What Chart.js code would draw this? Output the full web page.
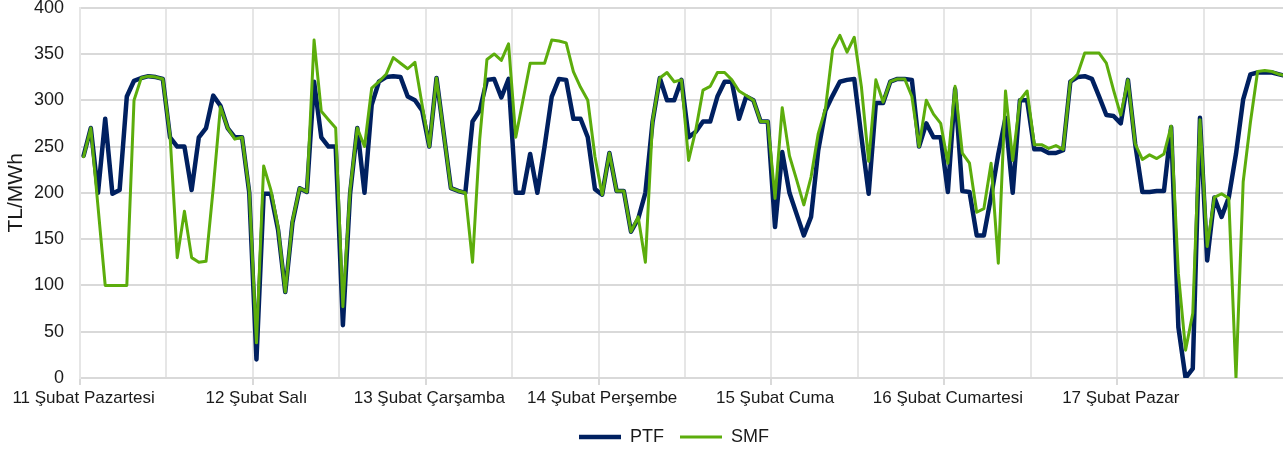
<!DOCTYPE html>
<html>
<head>
<meta charset="utf-8">
<script src="https://cdn.jsdelivr.net/npm/chart.js@4.4.1/dist/chart.umd.min.js"></script>
<style>
  html, body { margin: 0; padding: 0; overflow: hidden; background: #fff; }
  #wrap { width: 1290px; height: 452px; }
</style>
</head>
<body>
<div id="wrap"><canvas id="priceChart"></canvas></div>
<script>
// One tick label per day, 24 hourly values each
const days = ["11 Şubat Pazartesi", "12 Şubat Salı", "13 Şubat Çarşamba", "14 Şubat Perşembe",
  "15 Şubat Cuma", "16 Şubat Cumartesi", "17 Şubat Pazar"];

// PTF hourly (TL/MWh)
const ptf = [
  240, 270, 200, 280, 199, 203, 304, 321, 324, 326, 325, 323, 260, 250, 250, 203, 260, 270, 305, 294, 270, 260, 260, 200,
  20, 199, 199, 160, 93, 168, 205, 201, 320, 260, 250, 250, 57, 199, 270, 200, 295, 320, 325, 326, 325, 304, 300, 289,
  250, 324, 264, 205, 202, 200, 277, 289, 322, 323, 303, 323, 200, 200, 242, 200, 250, 304, 323, 322, 280, 280, 260, 204,
  198, 243, 202, 202, 158, 172, 200, 277, 324, 300, 300, 322, 260, 266, 277, 277, 304, 320, 320, 280, 304, 300, 277, 277,
  163, 244, 200, 177, 154, 174, 246, 289, 305, 320, 322, 323, 260, 199, 297, 297, 320, 323, 323, 322, 250, 275, 260, 260,
  201, 312, 202, 201, 154, 154, 196, 242, 281, 200, 300, 300, 247, 247, 243, 243, 246, 320, 325, 326, 323, 304, 284, 283,
  275, 322, 253, 201, 201, 202, 202, 271, 55, 0, 10, 281, 127, 195, 174, 195, 242, 301, 328, 330, 330, 330, 328, 326
];

// SMF hourly (TL/MWh)
const smf = [
  239, 270, 185, 100, 100, 100, 100, 300, 324, 326, 325, 323, 262, 130, 180, 130, 125, 126, 205, 293, 270, 258, 260, 202,
  38, 229, 203, 163, 93, 170, 205, 201, 365, 288, 279, 270, 77, 203, 270, 250, 313, 320, 328, 346, 340, 334, 341, 295,
  250, 324, 264, 205, 202, 200, 125, 258, 344, 350, 343, 361, 260, 300, 340, 340, 340, 365, 364, 362, 331, 314, 300, 239,
  198, 243, 202, 202, 158, 174, 125, 278, 324, 330, 320, 322, 235, 268, 311, 315, 330, 330, 322, 310, 305, 300, 277, 277,
  194, 292, 240, 214, 187, 217, 264, 291, 355, 370, 352, 368, 314, 234, 322, 298, 320, 323, 323, 304, 250, 300, 285, 275,
  232, 315, 243, 232, 179, 183, 232, 124, 310, 235, 300, 310, 252, 252, 248, 251, 247, 320, 328, 351, 351, 351, 340, 311,
  284, 322, 253, 236, 241, 237, 242, 272, 113, 30, 70, 279, 142, 195, 199, 194, 0, 212, 276, 331, 332, 331, 328, 326
];

const yMin = 0, yMax = 400, yStep = 50;

// hourly categories
const hours = [];
days.forEach(function (d) {
  for (let h = 0; h < 24; h++) hours.push(d + " " + String(h).padStart(2, "0") + ":00");
});

Chart.defaults.font.family = "'Liberation Sans', Arial, sans-serif";
Chart.defaults.color = "#1a1a1a";

// move legend to where the original sits
const legendNudge = {
  id: "legendNudge",
  afterLayout(chart) {
    const lg = chart.legend;
    lg.left -= 11; lg.right -= 11;
    lg.top += 4; lg.bottom += 4;
  }
};

new Chart(document.getElementById("priceChart"), {
  type: "line",
  data: {
    labels: hours,
    datasets: [
      {
        label: "PTF",
        data: ptf,
        borderColor: "#002060",
        backgroundColor: "#002060",
        borderWidth: 4.5,
        order: 1
      },
      {
        label: "SMF",
        data: smf,
        borderColor: "#5cad0c",
        backgroundColor: "#5cad0c",
        borderWidth: 3,
        order: 0
      }
    ]
  },
  options: {
    responsive: true,
    maintainAspectRatio: false,
    animation: false,
    events: [],
    elements: {
      point: { radius: 0 },
      line: { tension: 0, borderJoinStyle: "round", borderCapStyle: "round" }
    },
    layout: { padding: 0 },
    plugins: {
      tooltip: { enabled: false },
      legend: {
        position: "bottom",
        fullSize: false,
        labels: {
          usePointStyle: true,
          pointStyle: "line",
          pointStyleWidth: 42,
          padding: 16,
          font: { size: 18 },
          color: "#1a1a1a",
          sort: (a, b) => a.datasetIndex - b.datasetIndex
        }
      }
    },
    scales: {
      x: {
        offset: true,
        grid: {
          offset: true,
          lineWidth: 2,
          color: (ctx) => (ctx.index % 12 === 0 ? "#e6e6e6" : "transparent"),
          tickColor: (ctx) => (ctx.index % 24 === 0 ? "#d9d9d9" : "transparent"),
          tickLength: 7
        },
        border: { color: "#d9d9d9", width: 2 },
        ticks: {
          autoSkip: false,
          maxRotation: 0,
          minRotation: 0,
          padding: 3,
          font: { size: 17 },
          callback: function (val, index) {
            return index % 24 === 0 ? days[index / 24] : "";
          }
        },
        afterFit: function (scale) { scale.height = 30; }
      },
      y: {
        min: yMin,
        max: yMax,
        grid: { color: "#d9d9d9", lineWidth: 2, tickLength: 16, tickColor: "transparent" },
        border: { color: "#e6e6e6", width: 2 },
        ticks: { stepSize: yStep, padding: 0, font: { size: 18, lineHeight: 0.85 } },
        title: { display: true, text: "TL/MWh", font: { size: 21 }, color: "#1a1a1a" },
        afterFit: function (scale) { scale.width = 80; }
      }
    }
  },
  plugins: [legendNudge]
});
</script>
</body>
</html>
